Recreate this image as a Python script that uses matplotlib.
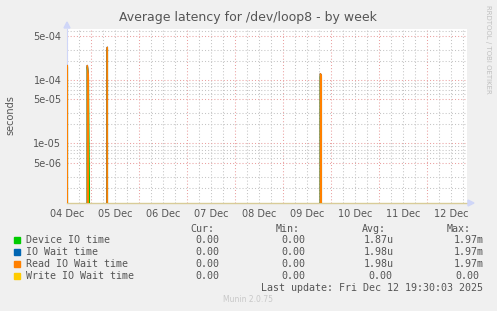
import pandas as pd
import matplotlib
matplotlib.use("Agg")
import matplotlib.pyplot as plt
import matplotlib.dates as mdates
from matplotlib.ticker import FixedLocator, FixedFormatter, LogLocator, NullFormatter, FuncFormatter
from matplotlib.patches import Rectangle

# time window of the week graph (30 min per sample)
t_start = pd.Timestamp("2025-12-04 11:50")
t_end = pd.Timestamp("2025-12-12 19:50")

# samples that are not zero
spike_times = ["2025-12-04 12:00", "2025-12-04 22:00", "2025-12-04 22:30", "2025-12-04 23:00",
               "2025-12-05 08:00", "2025-12-09 18:30", "2025-12-09 19:00"]
device_io = [1.6e-4, 1.6e-4, 1.1e-4, 2e-6, 3.1e-4, 1.15e-4, 1.1e-4]
io_wait = [1.7e-4, 1.7e-4, 1.2e-4, 0, 3.3e-4, 1.26e-4, 1.2e-4]
read_wait = [1.7e-4, 1.7e-4, 1.2e-4, 0, 3.3e-4, 1.26e-4, 1.2e-4]
write_wait = [0, 0, 0, 0, 0, 0, 0]

names = ["Device IO time", "IO Wait time", "Read IO Wait time", "Write IO Wait time"]
colors = ["#00cc00", "#0066b3", "#ff8000", "#ffcc00"]
cur = ["0.00", "0.00", "0.00", "0.00"]
mins = ["0.00", "0.00", "0.00", "0.00"]
avgs = ["1.87u", "1.98u", "1.98u", "0.00"]
maxs = ["1.97m", "1.97m", "1.97m", "0.00"]
y_ticks = [5e-6, 1e-5, 5e-5, 1e-4, 5e-4]
y_labels = ["5e-06", "1e-05", "5e-05", "1e-04", "5e-04"]

grid = pd.date_range("2025-12-04 11:30", "2025-12-12 20:00", freq="30min")
df = pd.DataFrame(0.0, index=grid, columns=names)
for col, vals in zip(names, [device_io, io_wait, read_wait, write_wait]):
    df.loc[pd.to_datetime(spike_times), col] = vals

W, H = 497, 311
fig = plt.figure(figsize=(W / 100, H / 100), dpi=100, facecolor="#f0f0f0")
ax = fig.add_axes([67 / W, 1 - 203 / H, 400 / W, 174 / H], facecolor="white")
ax.set_yscale("log", nonpositive="clip")

for col, c in zip(names, colors):
    ax.plot(df.index, df[col], color=c, lw=1.0, zorder=3)

ax.set_xlim(t_start, t_end)
ax.set_ylim(1.15e-6, 6.4e-4)

# y axis
ax.yaxis.set_major_locator(FixedLocator(y_ticks))
ax.yaxis.set_major_formatter(FixedFormatter(y_labels))
ax.yaxis.set_minor_locator(LogLocator(base=10, subs=(2, 3, 6, 7, 8, 9)))
ax.yaxis.set_minor_formatter(NullFormatter())

# x axis: red lines at midnight, grey every 6 h, labels at noon
ax.xaxis.set_major_locator(mdates.DayLocator())
ax.xaxis.set_major_formatter(NullFormatter())
ax.xaxis.set_minor_locator(mdates.HourLocator(byhour=[6, 12, 18]))
ax.xaxis.set_minor_formatter(FuncFormatter(
    lambda v, p: mdates.num2date(v).strftime("%d %b") if mdates.num2date(v).hour == 12 else ""))

ax.grid(which="major", color="#eaa0a0", lw=0.75, ls=(0, (1, 2)))
ax.grid(which="minor", color="#c4c4c4", lw=0.75, ls=(0, (1, 2)))
ax.set_axisbelow(True)
ax.tick_params(which="both", length=0, labelsize=7, colors="#555555", pad=4)

for s in ["top", "right"]:
    ax.spines[s].set_visible(False)
ax.spines["left"].set_color("#cfd6f8")
ax.spines["left"].set_linewidth(0.8)
ax.spines["bottom"].set_color("#d8cc98")
ax.spines["bottom"].set_linewidth(1.0)

# arrows at the end of the axes
fig.add_artist(plt.Polygon([[64 / W, 1 - 28 / H], [70 / W, 1 - 28 / H], [67 / W, 1 - 22 / H]],
                           closed=True, color="#cfd6f8", transform=fig.transFigure))
fig.add_artist(plt.Polygon([[468 / W, 1 - 200 / H], [468 / W, 1 - 206 / H], [474 / W, 1 - 203 / H]],
                           closed=True, color="#cfd6f8", transform=fig.transFigure))

txt = "#555555"
fig.text(248 / W, 1 - 18 / H, "Average latency for /dev/loop8 - by week",
         ha="center", va="center", fontsize=9, color=txt)
fig.text(10 / W, 1 - 115 / H, "seconds", rotation=90, ha="center", va="center",
         fontsize=7, color=txt)
fig.text(488 / W, 1 - 5 / H, "RRDTOOL / TOBI OETIKER", rotation=270, ha="center", va="top",
         fontsize=5, color="#c0c0c0")

# legend table
mono = "DejaVu Sans Mono"
fs = 7.2
fig.text(190 / W, 1 - 228.5 / H, "Cur:", family=mono, fontsize=fs, color=txt, va="center")
fig.text(275.7 / W, 1 - 228.5 / H, "Min:", family=mono, fontsize=fs, color=txt, va="center")
fig.text(361.7 / W, 1 - 228.5 / H, "Avg:", family=mono, fontsize=fs, color=txt, va="center")
fig.text(446.7 / W, 1 - 228.5 / H, "Max:", family=mono, fontsize=fs, color=txt, va="center")
row_y = [240, 252, 264, 276]
for i, y in enumerate(row_y):
    fy = 1 - y / H
    fig.add_artist(Rectangle((14 / W, 1 - (y + 3) / H), 6 / W, 6 / H, color=colors[i],
                             transform=fig.transFigure))
    fig.text(26 / W, fy, names[i], family=mono, fontsize=fs, color=txt, va="center")
    fig.text(219.5 / W, fy, cur[i], family=mono, fontsize=fs, color=txt, va="center", ha="right")
    fig.text(305.5 / W, fy, mins[i], family=mono, fontsize=fs, color=txt, va="center", ha="right")
    fig.text(364 / W if avgs[i].endswith("u") else 368.3 / W, fy, avgs[i], family=mono,
             fontsize=fs, color=txt, va="center")
    fig.text(453.3 / W if maxs[i].endswith("m") else 455 / W, fy, maxs[i], family=mono,
             fontsize=fs, color=txt, va="center")
fig.text(483 / W, 1 - 288 / H, "Last update: Fri Dec 12 19:30:03 2025", family=mono,
         fontsize=fs, color=txt, va="center", ha="right")
fig.text(248 / W, 1 - 300 / H, "Munin 2.0.75", fontsize=5.5, color="#c8c8c8",
         ha="center", va="center")

fig.savefig("out.png", dpi=100, facecolor=fig.get_facecolor())
